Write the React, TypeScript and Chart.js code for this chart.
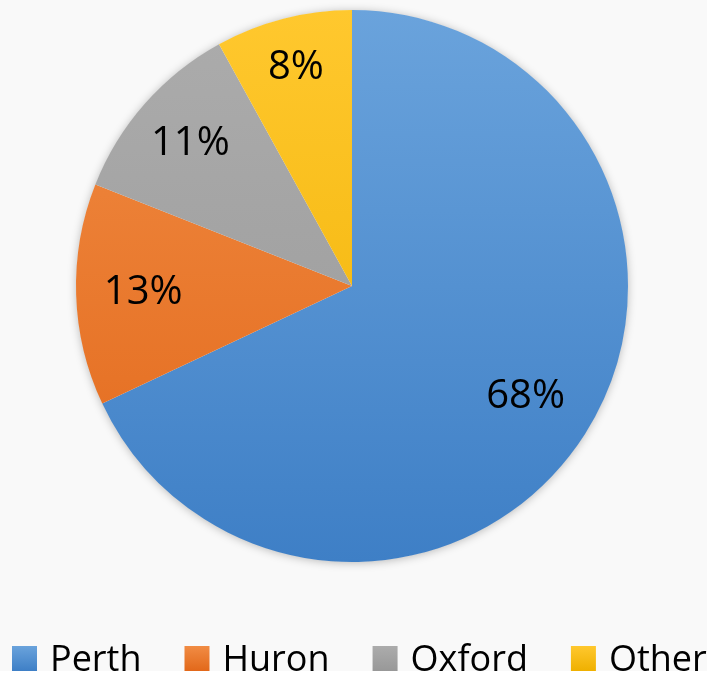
import React, { useEffect, useRef } from "react";
import { Chart, registerables } from "chart.js";

Chart.register(...registerables);

const categories = ["Perth", "Huron", "Oxford", "Other"];
const shares = [68, 13, 11, 8];
const labelTexts = ["68%", "13%", "11%", "8%"];
const topColors = ["#6aa3dc", "#f18c44", "#acacac", "#ffc82e"];
const bottomColors = ["#3e7fc6", "#e2681a", "#989898", "#efb000"];
const legendColors = ["#5b9bd5", "#ed7d31", "#a5a5a5", "#ffc000"];

const FONT = "'Open Sans', 'Noto Sans', sans-serif";

const shadowPlugin = {
  id: "pieShadow",
  beforeDatasetsDraw(chart: any) {
    const meta = chart.getDatasetMeta(0);
    const arc = meta.data[0];
    if (!arc) return;
    const { x, y, outerRadius } = arc.getProps(["x", "y", "outerRadius"], true);
    const ctx = chart.ctx;
    ctx.save();
    ctx.shadowColor = "rgba(0,0,0,0.28)";
    ctx.shadowBlur = 10;
    ctx.shadowOffsetX = 0;
    ctx.shadowOffsetY = 1;
    ctx.fillStyle = "#f9f9f9";
    ctx.beginPath();
    ctx.arc(x, y, outerRadius - 0.5, 0, Math.PI * 2);
    ctx.fill();
    ctx.restore();
  },
};

const labelPlugin = {
  id: "sliceLabels",
  afterDatasetsDraw(chart: any) {
    const meta = chart.getDatasetMeta(0);
    const total = shares.reduce((a, b) => a + b, 0);
    const ctx = chart.ctx;
    ctx.save();
    ctx.font = `40px ${FONT}`;
    ctx.fillStyle = "#000000";
    ctx.textAlign = "center";
    ctx.textBaseline = "middle";
    meta.data.forEach((arc: any, i: number) => {
      const p = arc.getProps(["x", "y", "startAngle", "endAngle", "outerRadius"], true);
      const mid = (p.startAngle + p.endAngle) / 2;
      const frac = shares[i] / total;
      const f = 0.745 + Math.max(0, 0.14 - frac) * 1.2;
      const r = p.outerRadius * f;
      ctx.fillText(labelTexts[i], p.x + Math.cos(mid) * r, p.y + Math.sin(mid) * r);
    });
    ctx.restore();
  },
};

const legendPlugin = {
  id: "bottomLegend",
  afterDraw(chart: any) {
    const ctx = chart.ctx;
    ctx.save();
    ctx.font = `36px ${FONT}`;
    ctx.textBaseline = "alphabetic";
    ctx.textAlign = "left";
    let x = 12;
    const boxTop = 646;
    const box = 25;
    const baseline = 671;
    categories.forEach((name, i) => {
      const g = ctx.createLinearGradient(0, boxTop, 0, boxTop + box);
      g.addColorStop(0, topColors[i]);
      g.addColorStop(1, bottomColors[i]);
      ctx.fillStyle = g;
      ctx.fillRect(x, boxTop, box, box);
      x += box + 13;
      ctx.fillStyle = "#000000";
      ctx.fillText(name, x, baseline);
      x += ctx.measureText(name).width + 43;
    });
    ctx.restore();
  },
};

export default function App() {
  const ref = useRef<HTMLCanvasElement | null>(null);

  useEffect(() => {
    if (!ref.current) return;
    const chart = new Chart(ref.current, {
      type: "pie",
      data: {
        labels: categories,
        datasets: [
          {
            data: shares,
            borderWidth: 0,
            backgroundColor: (context: any) => {
              const i = context.dataIndex;
              const area = context.chart.chartArea;
              if (!area) return legendColors[i];
              const g = context.chart.ctx.createLinearGradient(0, area.top, 0, area.bottom);
              g.addColorStop(0, topColors[i]);
              g.addColorStop(1, bottomColors[i]);
              return g;
            },
          },
        ],
      },
      options: {
        responsive: false,
        animation: false,
        layout: { padding: { left: 76, right: 79, top: 10, bottom: 109 } },
        plugins: {
          legend: { display: false },
          tooltip: { enabled: false },
        },
      },
      plugins: [shadowPlugin, labelPlugin, legendPlugin],
    });
    return () => chart.destroy();
  }, []);

  return (
    <div
      style={{
        position: "absolute",
        left: 0,
        top: 0,
        width: 707,
        height: 671,
        background: "#f9f9f9",
      }}
    >
      <canvas ref={ref} width={707} height={671} style={{ display: "block" }} />
    </div>
  );
}
